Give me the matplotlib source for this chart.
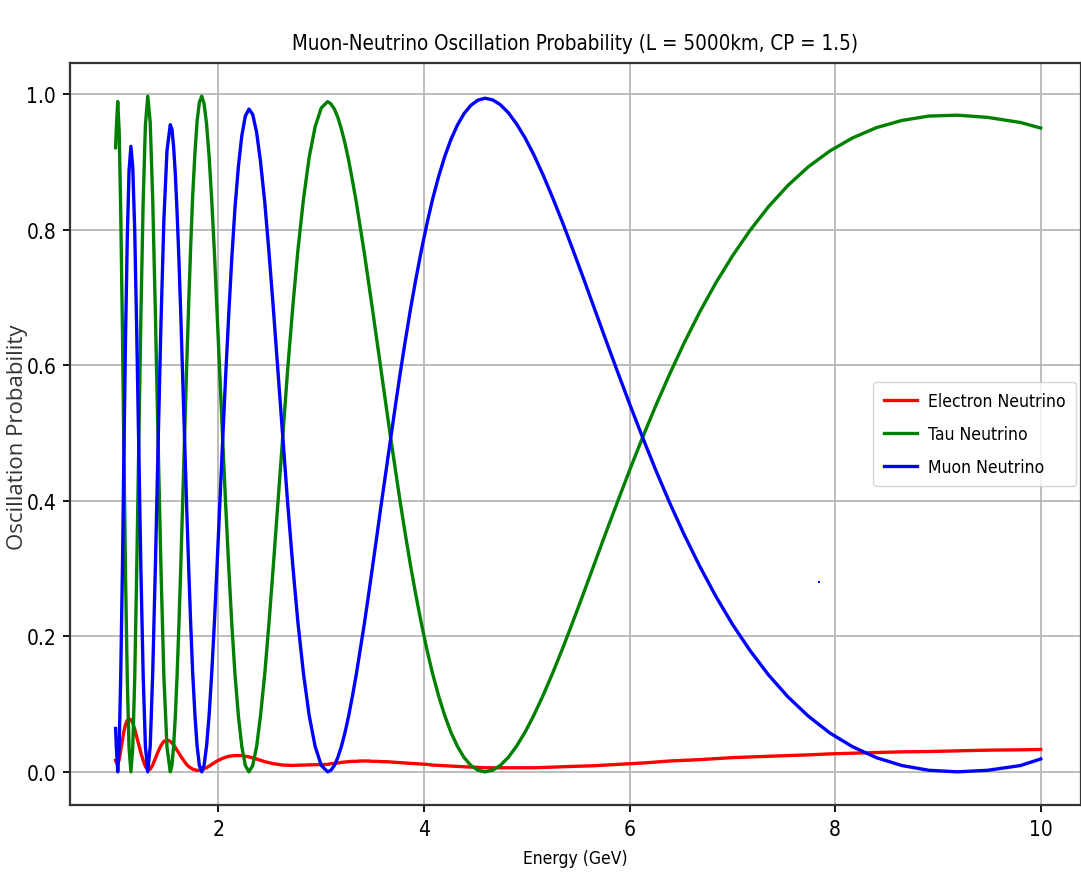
import numpy as np
import matplotlib
matplotlib.use("Agg")
import matplotlib.pyplot as plt

# 読み取った値 (Energy in GeV) -- main points
energy_a = [1.000, 1.007, 1.021, 1.035, 1.050, 1.066, 1.081, 1.097, 1.114, 1.131,
            1.149, 1.167, 1.186, 1.205, 1.225, 1.246, 1.268, 1.290, 1.313, 1.337,
            1.361, 1.387, 1.414, 1.442, 1.470, 1.500, 1.532, 1.564, 1.598, 1.634,
            1.671, 1.710, 1.750, 1.793, 1.838, 1.885, 1.935, 1.987, 2.042, 2.101,
            2.162, 2.228, 2.2975, 2.372, 2.451, 2.535, 2.626, 2.723, 2.828, 2.941,
            3.063, 3.129, 3.197, 3.268, 3.342, 3.420, 3.501, 3.586, 3.676, 3.770,
            3.869, 3.974, 4.084, 4.201, 4.325, 4.456, 4.595, 4.743, 4.901, 5.070,
            5.251, 5.446, 5.655, 5.882, 6.127, 6.393, 6.684, 7.002, 7.352, 7.739,
            8.169, 8.649, 9.190, 9.803, 10.000]

p_electron_a = [0.017, 0.014, 0.011, 0.018, 0.032, 0.047, 0.060, 0.070, 0.076, 0.078,
                0.077, 0.072, 0.063, 0.052, 0.040, 0.028, 0.017, 0.008, 0.003, 0.004,
                0.010, 0.020, 0.030, 0.039, 0.045, 0.047, 0.045, 0.040, 0.032, 0.023,
                0.015, 0.008, 0.004, 0.002, 0.003, 0.006, 0.011, 0.016, 0.020, 0.023,
                0.024, 0.024, 0.022, 0.019, 0.015, 0.012, 0.010, 0.0095, 0.010, 0.0105,
                0.011, 0.0125, 0.014, 0.015, 0.0155, 0.016, 0.0155, 0.015, 0.0145, 0.0135,
                0.0125, 0.0115, 0.010, 0.009, 0.008, 0.007, 0.006, 0.006, 0.006, 0.006,
                0.007, 0.008, 0.009, 0.011, 0.013, 0.016, 0.018, 0.021, 0.023, 0.025,
                0.0275, 0.0295, 0.031, 0.0325, 0.033]

p_tau_a = [0.921, 0.9484, 0.989, 0.9446, 0.8263, 0.6588, 0.470, 0.2871, 0.1353, 0.0351,
           0.000, 0.0354, 0.1372, 0.2926, 0.480, 0.6719, 0.8391, 0.9542, 0.997, 0.9581,
           0.8451, 0.6775, 0.485, 0.2967, 0.1398, 0.0363, 0.000, 0.0366, 0.1417, 0.3016,
           0.4925, 0.6858, 0.8502, 0.960, 0.997, 0.9561, 0.8442, 0.6802, 0.490, 0.3016,
           0.1429, 0.0372, 0.000, 0.0374, 0.1442, 0.305, 0.495, 0.6847, 0.8451, 0.9518,
           0.989, 0.978, 0.9484, 0.902, 0.8404, 0.7654, 0.6806, 0.5885, 0.4928, 0.3971,
           0.3048, 0.2196, 0.1449, 0.0835, 0.0378, 0.0095, 0.000, 0.0095, 0.0379, 0.0838,
           0.1454, 0.2204, 0.3059, 0.3981, 0.4935, 0.5879, 0.6789, 0.7615, 0.834, 0.8928,
           0.9354, 0.9612, 0.969, 0.9582, 0.950]

p_muon_a = [0.064, 0.0376, 0.000, 0.0374, 0.1417, 0.2942, 0.470, 0.6429, 0.7887, 0.8869,
            0.923, 0.8926, 0.7998, 0.6554, 0.480, 0.3001, 0.1439, 0.0378, 0.000, 0.0379,
            0.1449, 0.3025, 0.485, 0.6643, 0.8152, 0.9167, 0.955, 0.9234, 0.8263, 0.6754,
            0.4925, 0.3062, 0.1458, 0.038, 0.000, 0.0379, 0.1448, 0.3038, 0.490, 0.6754,
            0.8331, 0.9388, 0.978, 0.9436, 0.8408, 0.683, 0.495, 0.3058, 0.1449, 0.0377,
            0.000, 0.0095, 0.0376, 0.083, 0.1441, 0.2186, 0.3039, 0.3965, 0.4928, 0.5894,
            0.6827, 0.7689, 0.8451, 0.9075, 0.9542, 0.9835, 0.994, 0.9845, 0.9561, 0.9102,
            0.8476, 0.7716, 0.6851, 0.5909, 0.4935, 0.3961, 0.3031, 0.2175, 0.143, 0.0822,
            0.0371, 0.0093, 0.000, 0.0093, 0.019]

# extra points read in between (wide arcs)
energy_b = [1.548, 1.581, 1.616, 1.652, 1.690, 1.730, 1.772, 1.815, 1.861, 1.910,
            1.961, 2.014, 2.071, 2.131, 2.195, 2.262, 2.334, 2.410, 2.492, 2.580,
            2.673, 2.774, 2.883, 3.001, 3.095, 3.162, 3.232, 3.304, 3.380, 3.460,
            3.543, 3.631, 3.723, 3.819, 3.921, 4.028, 4.142, 4.262, 4.389, 4.524,
            4.668, 4.821, 4.984, 5.159, 5.347, 5.549, 5.766, 6.002, 6.257, 6.535,
            6.839, 7.173, 7.540, 7.948, 8.402, 8.912, 9.486]

p_electron_b = [0.0425, 0.036, 0.0275, 0.019, 0.011, 0.006, 0.003, 0.0025, 0.0045, 0.0085,
                0.0135, 0.018, 0.0215, 0.0235, 0.024, 0.023, 0.0205, 0.017, 0.0135, 0.011,
                0.0097, 0.0097, 0.010, 0.0108, 0.012, 0.013, 0.0145, 0.0155, 0.016, 0.016,
                0.0155, 0.015, 0.014, 0.013, 0.012, 0.011, 0.0095, 0.0085, 0.0075, 0.0065,
                0.006, 0.006, 0.006, 0.0065, 0.0075, 0.0085, 0.010, 0.012, 0.0145, 0.017,
                0.0195, 0.022, 0.024, 0.0265, 0.0285, 0.030, 0.032]

p_tau_b = [0.0092, 0.0813, 0.2161, 0.3949, 0.5909, 0.7731, 0.913, 0.9879, 0.9859, 0.9079,
           0.7673, 0.5867, 0.3938, 0.217, 0.0823, 0.0094, 0.0094, 0.0829, 0.2192, 0.3981,
           0.5917, 0.7703, 0.9065, 0.9797, 0.9856, 0.9658, 0.9274, 0.8728, 0.8041, 0.7239,
           0.6351, 0.5408, 0.4447, 0.3503, 0.2611, 0.1808, 0.1124, 0.0585, 0.0213, 0.0024,
           0.0024, 0.0214, 0.0586, 0.1128, 0.1814, 0.2621, 0.3514, 0.4456, 0.541, 0.6341,
           0.7214, 0.7992, 0.8652, 0.9161, 0.9506, 0.9677, 0.9657]

p_muon_b = [0.9483, 0.8827, 0.7564, 0.5861, 0.3981, 0.2209, 0.084, 0.0096, 0.0096, 0.0836,
            0.2192, 0.3953, 0.5847, 0.7595, 0.8937, 0.9676, 0.9701, 0.9001, 0.7673, 0.5909,
            0.3986, 0.220, 0.0835, 0.0095, 0.0024, 0.0212, 0.0581, 0.1117, 0.1799, 0.2601,
            0.3494, 0.4442, 0.5413, 0.6367, 0.7269, 0.8082, 0.8781, 0.933, 0.9712, 0.9911,
            0.9916, 0.9726, 0.9354, 0.8807, 0.8111, 0.7294, 0.6386, 0.5424, 0.4445, 0.3489,
            0.2591, 0.1788, 0.1108, 0.0574, 0.0209, 0.0023, 0.0023]

# 単独の点
dot_e = [7.839]
dot_p = [0.280]

df_e = np.array(energy_a + energy_b)
order = np.argsort(df_e)
energy = df_e[order]
p_electron = np.array(p_electron_a + p_electron_b)[order]
p_tau = np.array(p_tau_a + p_tau_b)[order]
p_muon = np.array(p_muon_a + p_muon_b)[order]

cond = dict(family='DejaVu Sans', stretch='condensed')

fig = plt.figure(figsize=(10.81, 8.79), dpi=100)
ax = fig.add_axes([0.0648, 0.083, 0.9352, 0.8442])

ax.plot(energy, p_electron, color='red', lw=2.4, label='Electron Neutrino')
ax.plot(energy, p_tau, color='green', lw=2.4, label='Tau Neutrino')
ax.plot(energy, p_muon, color='blue', lw=2.4, label='Muon Neutrino')
ax.plot(dot_e, dot_p, 's', color='blue', markersize=2, markeredgewidth=0)

ax.set_xlim(0.557, 10.392)
ax.set_ylim(-0.049, 1.046)
ax.set_xticks([2, 4, 6, 8, 10])
ax.set_yticks([0.0, 0.2, 0.4, 0.6, 0.8, 1.0])
ax.grid(True, color='#b8b8b8', lw=1.3)
for s in ax.spines.values():
    s.set_linewidth(1.6)
    s.set_color('#333333')
ax.tick_params(length=5, width=1.3, labelsize=15, pad=5)
for lab in ax.get_xticklabels() + ax.get_yticklabels():
    lab.set_family('DejaVu Sans')
    lab.set_stretch('condensed')

ax.set_title('Muon-Neutrino Oscillation Probability (L = 5000km, CP = 1.5)',
             fontsize=14.8, pad=10, **cond)
ax.set_xlabel('Energy (GeV)', fontsize=12.5, labelpad=7, **cond)
ax.set_ylabel('Oscillation Probability', fontsize=16, color='#333333',
              family=['Open Sans', 'DejaVu Sans'])
ax.yaxis.set_label_coords(-0.042, 0.497)

ax.legend(loc='center right', prop={'family': 'DejaVu Sans', 'stretch': 'condensed', 'size': 12.6},
          handlelength=1.9, handletextpad=0.6, borderaxespad=0.3, labelspacing=0.85,
          borderpad=0.6)

fig.savefig('out.png', dpi=100)
